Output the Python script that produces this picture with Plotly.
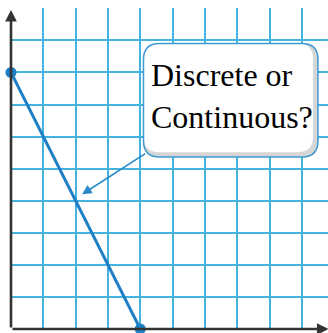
import plotly.graph_objects as go

line_x = [0, 4]
line_y = [8, 0]
callout_lines = ["Discrete or", "Continuous?"]

GRID = "#45b3e0"
LINE = "#1f7fc4"
AXIS = "#333333"

fig = go.Figure()
fig.add_trace(go.Scatter(x=line_x, y=line_y, mode="lines+markers",
                         line=dict(color=LINE, width=3),
                         marker=dict(color=LINE, size=11),
                         cliponaxis=False, hoverinfo="skip"))

def rounded(x0, y0, x1, y1, r):
    return (f"M {x0+r},{y0} L {x1-r},{y0} Q {x1},{y0} {x1},{y0+r} "
            f"L {x1},{y1-r} Q {x1},{y1} {x1-r},{y1} L {x0+r},{y1} "
            f"Q {x0},{y1} {x0},{y1-r} L {x0},{y0+r} Q {x0},{y0} {x0+r},{y0} Z")

bx0, bx1, by0, by1, r = 4.1, 9.5, 5.36, 8.9, 0.5
shapes = [
    dict(type="path", path=rounded(bx0, by0, bx1, by1, r), xref="x", yref="y",
         fillcolor="#d6d6d6", line=dict(width=0), layer="above"),
    dict(type="path", path=rounded(bx0, by0 + 0.15, bx1 - 0.15, by1, r), xref="x", yref="y",
         fillcolor="white", line=dict(width=0), layer="above"),
    dict(type="path", path=rounded(bx0, by0, bx1, by1, r), xref="x", yref="y",
         fillcolor="rgba(0,0,0,0)", line=dict(color="#3e9ad2", width=1.5), layer="above"),
]

annotations = [
    dict(x=2.2, y=4.2, ax=4.2, ay=5.5, xref="x", yref="y", axref="x", ayref="y",
         showarrow=True, arrowhead=2, arrowsize=1.2, arrowwidth=1.6, arrowcolor="#2a8bc8", text=""),
    dict(x=9.83, y=0, ax=0, ay=0, xref="x", yref="y", axref="x", ayref="y",
         showarrow=True, arrowhead=2, arrowsize=0.9, arrowwidth=2.6, arrowcolor=AXIS, text=""),
    dict(x=0, y=9.95, ax=0, ay=0, xref="x", yref="y", axref="x", ayref="y",
         showarrow=True, arrowhead=2, arrowsize=0.9, arrowwidth=2.6, arrowcolor=AXIS, text=""),
    dict(x=4.28, y=7.27, xref="x", yref="y", xanchor="left", yanchor="middle",
         text="<br>".join(callout_lines), showarrow=False, align="left",
         font=dict(family="Liberation Serif", size=32, color="black")),
]

fig.update_layout(
    width=328, height=333,
    margin=dict(l=11, r=0, t=8, b=4),
    plot_bgcolor="white", paper_bgcolor="white",
    showlegend=False,
    shapes=shapes, annotations=annotations,
    xaxis=dict(range=[0, 9.81], dtick=1, tick0=0, showticklabels=False, ticks="",
               showgrid=True, gridcolor=GRID, gridwidth=2, zeroline=False, showline=False,
               fixedrange=True),
    yaxis=dict(range=[0, 10.01], dtick=1, tick0=0, showticklabels=False, ticks="",
               showgrid=True, gridcolor=GRID, gridwidth=2, zeroline=False, showline=False,
               fixedrange=True),
)

fig.write_html("out.html", config={"displayModeBar": False},
               post_script="document.body.style.margin='0';document.body.style.padding='0';")
